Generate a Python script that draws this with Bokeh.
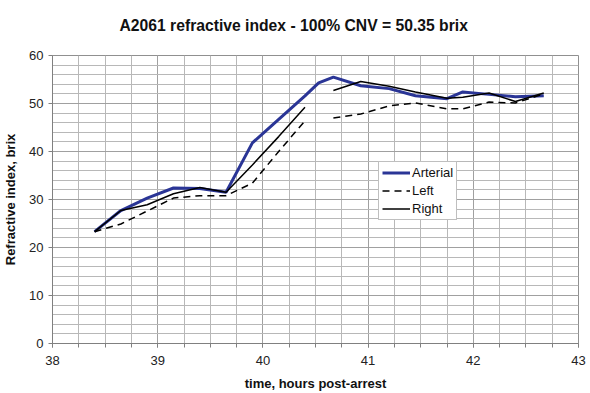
import numpy as np
from bokeh.plotting import figure
from bokeh.models import FixedTicker, Range1d, Legend, LegendItem
from bokeh.embed import file_html
from bokeh.resources import INLINE

time = [38.4, 38.65, 38.9, 39.15, 39.4, 39.65, 39.9, 40.15, 40.4, 40.53,
        40.67, 40.93, 41.2, 41.45, 41.75, 41.9, 42.15, 42.4, 42.67]
arterial = [23.3, 27.7, 30.3, 32.4, 32.3, 31.5, 41.8, 46.7, 51.6, 54.3,
            55.5, 53.7, 53.1, 51.6, 51.0, 52.4, 51.9, 51.4, 51.6]
left = [23.3, 24.9, 27.6, 30.3, 30.8, 30.8, 33.4, 40.0, 46.4, np.nan,
        47.0, 47.8, 49.5, 50.1, 48.9, 48.9, 50.3, 50.1, 52.0]
right = [23.3, 27.7, 28.9, 31.2, 32.5, 31.5, 37.2, 43.1, 49.2, np.nan,
         52.7, 54.6, 53.6, 52.4, 51.1, 51.3, 52.2, 50.4, 52.2]

x_ticks = [38, 39, 40, 41, 42, 43]
y_ticks = [0, 10, 20, 30, 40, 50, 60]

FONT = "Liberation Sans"

p = figure(width=590, height=393, output_backend="svg", toolbar_location=None,
           x_range=Range1d(38, 43), y_range=Range1d(0, 60),
           min_border_left=51, min_border_right=12, min_border_top=55,
           min_border_bottom=50, background_fill_color="white",
           border_fill_color="white")

p.title.text = "A2061 refractive index - 100% CNV = 50.35 brix\n "
p.title.align = "left"
p.title.offset = 67
p.title.text_line_height = 1.0
p.title.text_font = FONT
p.title.text_font_size = "15.7px"
p.title.text_font_style = "bold"
p.title.text_color = "#111111"

p.xaxis.ticker = FixedTicker(ticks=x_ticks,
                             minor_ticks=list(np.arange(38, 43.001, 0.25)))
p.yaxis.ticker = FixedTicker(ticks=y_ticks,
                             minor_ticks=list(range(0, 61, 2)))

for ax in (p.xaxis, p.yaxis):
    ax.axis_line_color = "#808080"
    ax.major_tick_line_color = "#808080"
    ax.minor_tick_line_color = "#808080"
    ax.major_tick_out = 4
    ax.major_tick_in = 0
    ax.minor_tick_in = 0
    ax.major_label_text_font = FONT
    ax.major_label_text_font_size = "13px"
    ax.major_label_text_color = "#222222"
    ax.axis_label_text_font = FONT
    ax.axis_label_text_font_size = "13px"
    ax.axis_label_text_font_style = "bold"
    ax.axis_label_text_color = "#111111"

p.xaxis.minor_tick_out = 4
p.yaxis.minor_tick_out = 0
p.xaxis.major_label_standoff = 8
p.yaxis.major_label_standoff = 5
p.xaxis.axis_label = "time, hours post-arrest"
p.yaxis.axis_label = "Refractive index, brix"
p.xaxis.axis_label_standoff = 8
p.yaxis.axis_label_standoff = 8

p.xgrid.grid_line_color = "#a0a0a0"
p.ygrid.grid_line_color = "#a0a0a0"
p.xgrid.minor_grid_line_color = "#b8b8b8"
p.ygrid.minor_grid_line_color = "#b8b8b8"
p.xgrid.grid_line_width = 1
p.ygrid.grid_line_width = 1

p.outline_line_color = "#909090"

r_art = p.line(time, arterial, line_color="#2a3596", line_width=3)
r_left = p.line(time, left, line_color="black", line_width=1.5,
                line_dash="7 5")
r_right = p.line(time, right, line_color="black", line_width=1.5)

legend = Legend(items=[LegendItem(label="Arterial", renderers=[r_art]),
                       LegendItem(label="Left", renderers=[r_left]),
                       LegendItem(label="Right", renderers=[r_right])],
                location=(326, 123))
legend.label_text_font = FONT
legend.label_text_font_size = "13px"
legend.label_text_color = "#111111"
legend.glyph_width = 28
legend.glyph_height = 15
legend.label_height = 15
legend.label_standoff = 2
legend.spacing = 3
legend.padding = 3
legend.margin = 0
legend.border_line_color = "#808080"
legend.background_fill_color = "white"
legend.background_fill_alpha = 1
p.add_layout(legend)

open("out.html", "w").write(file_html(p, INLINE))
